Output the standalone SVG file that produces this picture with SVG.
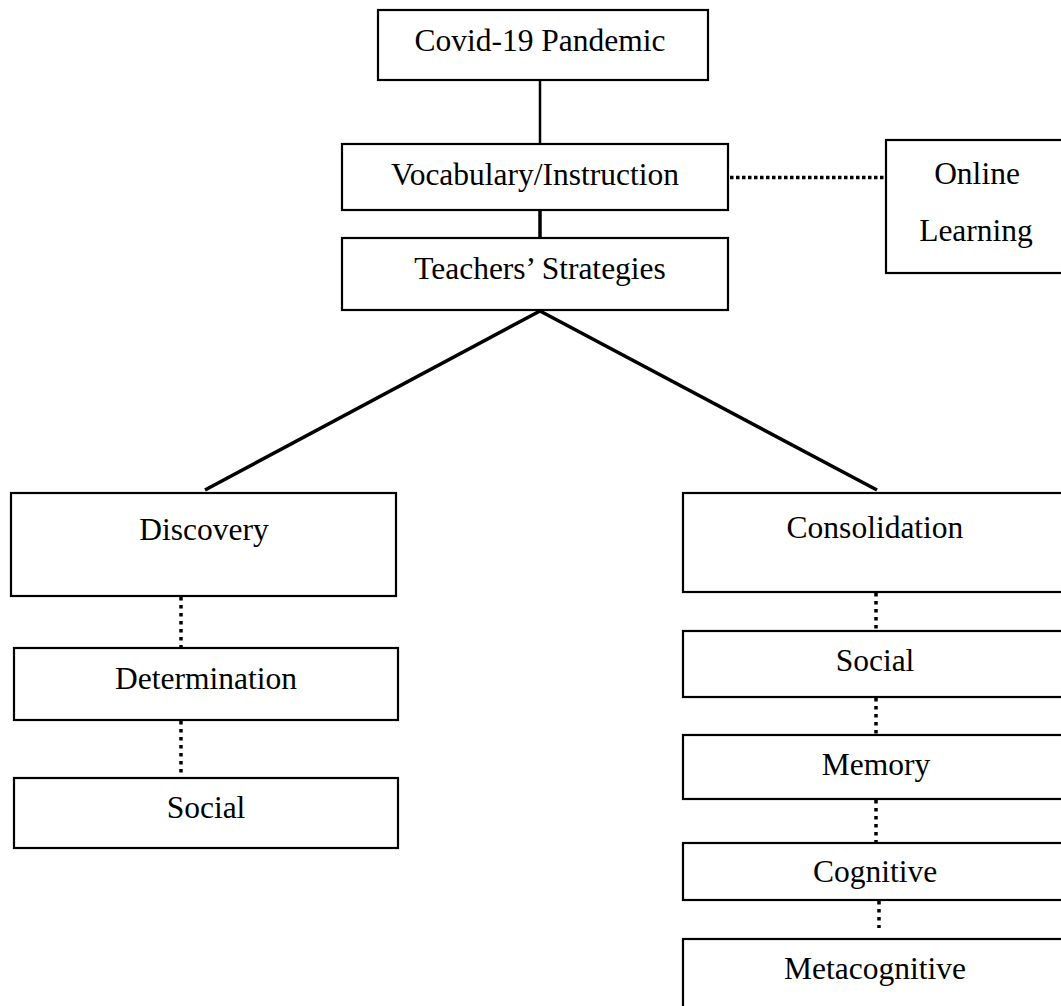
<svg xmlns="http://www.w3.org/2000/svg" width="1061" height="1006" viewBox="0 0 1061 1006">
<style>
.box{fill:#fff;stroke:#000;stroke-width:2.2}
.t{font-family:"Liberation Serif","Times New Roman",serif;font-size:31.5px;fill:#000;text-anchor:middle}
.solid{stroke:#000;stroke-width:2.5;fill:none}
.diag{stroke:#000;stroke-width:3.5;fill:none}
.doth{stroke:#000;stroke-width:3.5;stroke-dasharray:3.5 2.5;fill:none}
.dotv{stroke:#000;stroke-width:3.5;stroke-dasharray:3.5 4.5;fill:none}
</style>
<rect width="1061" height="1006" fill="#fff"/>
<g id="connectors">
<line class="solid" x1="540" y1="80" x2="540" y2="144"/>
<line class="diag" x1="540" y1="210" x2="540" y2="238"/>
<line class="doth" x1="730" y1="177.5" x2="886" y2="177.5"/>
<line class="diag" x1="540" y1="311" x2="205" y2="490"/>
<line class="diag" x1="540" y1="311" x2="877" y2="490"/>
<line class="dotv" x1="181" y1="597" x2="181" y2="648"/>
<line class="dotv" x1="181" y1="721" x2="181" y2="777"/>
<line class="dotv" x1="876" y1="593" x2="876" y2="630"/>
<line class="dotv" x1="876" y1="698" x2="876" y2="734"/>
<line class="dotv" x1="876" y1="800" x2="876" y2="842"/>
<line class="dotv" x1="879" y1="901" x2="879" y2="928"/>
</g>
<g id="covid"><rect class="box" x="378" y="10" width="330" height="70"/><text class="t" x="540" y="51">Covid-19 Pandemic</text></g>
<g id="vocabulary"><rect class="box" x="342" y="144" width="386" height="66"/><text class="t" x="535" y="185">Vocabulary/Instruction</text></g>
<g id="teachers"><rect class="box" x="342" y="238" width="386" height="72"/><text class="t" x="540" y="279">Teachers’ Strategies</text></g>
<g id="online"><rect class="box" x="886" y="140" width="180" height="133"/><text class="t" x="977" y="184">Online</text><text class="t" x="976" y="241">Learning</text></g>
<g id="discovery"><rect class="box" x="11" y="493" width="385" height="103"/><text class="t" x="204" y="540">Discovery</text></g>
<g id="determination"><rect class="box" x="14" y="648" width="384" height="72"/><text class="t" x="206" y="689">Determination</text></g>
<g id="social-left"><rect class="box" x="14" y="778" width="384" height="70"/><text class="t" x="206" y="818">Social</text></g>
<g id="consolidation"><rect class="box" x="683" y="493" width="384" height="99"/><text class="t" x="875" y="538">Consolidation</text></g>
<g id="social-right"><rect class="box" x="683" y="631" width="384" height="66"/><text class="t" x="875" y="671">Social</text></g>
<g id="memory"><rect class="box" x="683" y="735" width="384" height="64"/><text class="t" x="876" y="775">Memory</text></g>
<g id="cognitive"><rect class="box" x="683" y="843" width="384" height="57"/><text class="t" x="875" y="882">Cognitive</text></g>
<g id="metacognitive"><rect class="box" x="683" y="939" width="384" height="80"/><text class="t" x="875" y="979">Metacognitive</text></g>
</svg>
